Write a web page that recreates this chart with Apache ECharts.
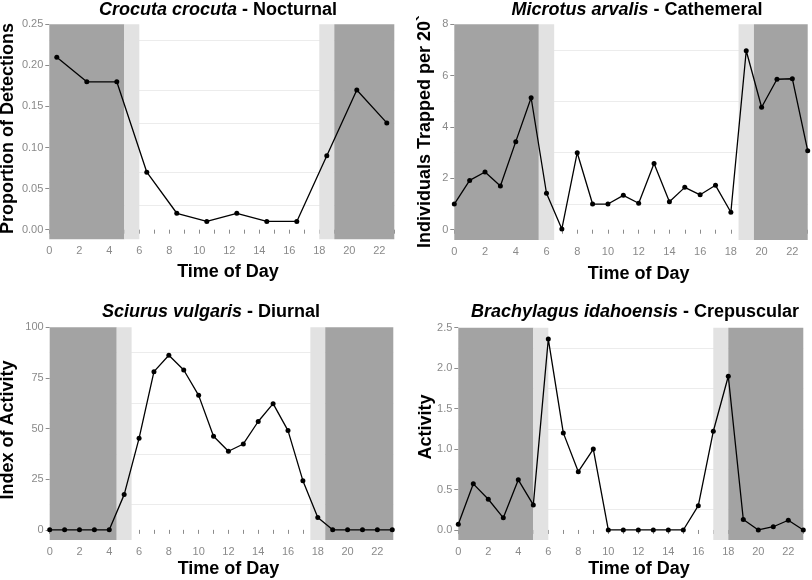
<!DOCTYPE html>
<html>
<head>
<meta charset="utf-8">
<script src="https://cdn.jsdelivr.net/npm/echarts@6/dist/echarts.min.js"></script>
<style>
html,body{margin:0;padding:0;background:#fff;}
#c{width:812px;height:580px;}
</style>
</head>
<body>
<div id="c"></div>
<script>
// ---------------- DATA ----------------
const hourTicks = [0,1,2,3,4,5,6,7,8,9,10,11,12,13,14,15,16,17,18,19,20,21,22,23];
const hourLabels = [0,2,4,6,8,10,12,14,16,18,20,22];
const hoursHourly = [0,1,2,3,4,5,6,7,8,9,10,11,12,13,14,15,16,17,18,19,20,21,22,23];

const crocutaHours = [0.5,2.5,4.5,6.5,8.5,10.5,12.5,14.5,16.5,18.5,20.5,22.5];
const crocutaValues = [0.21,0.18,0.18,0.07,0.02,0.01,0.02,0.01,0.01,0.09,0.17,0.13];
const crocutaYTicks = [0,0.05,0.10,0.15,0.20,0.25];
const crocutaMinorGrid = [0.025,0.075,0.125,0.175,0.225];
const crocutaBands = [[0,5,'night'],[5,6,'twilight'],[18,19,'twilight'],[19,23,'night']];

const microtusValues = [1.0,1.92,2.25,1.70,3.43,5.14,1.42,0.03,3.0,1.0,1.0,1.34,1.03,2.58,1.09,1.65,1.36,1.73,0.68,6.97,4.77,5.86,5.88,3.08];
const microtusYTicks = [0,2,4,6,8];
const microtusMinorGrid = [1,3,5,7];
const microtusBands = [[0,5.5,'night'],[5.5,6.5,'twilight'],[18.5,19.5,'twilight'],[19.5,23,'night']];

const sciurusValues = [0,0,0,0,0,17.4,45.2,78.1,86.2,78.9,66.4,46.2,38.8,42.4,53.5,62.3,49.0,24.3,6.1,0,0,0,0,0];
const sciurusYTicks = [0,25,50,75,100];
const sciurusMinorGrid = [12.5,37.5,62.5,87.5];
const sciurusBands = [[0,4.5,'night'],[4.5,5.5,'twilight'],[17.5,18.5,'twilight'],[18.5,23.07,'night']];

const brachyValues = [0.07,0.57,0.38,0.15,0.62,0.31,2.36,1.20,0.72,1.00,0,0,0,0,0,0,0.30,1.22,1.90,0.13,0,0.04,0.12,0];
const brachyYTicks = [0,0.5,1.0,1.5,2.0,2.5];
const brachyMinorGrid = [0.25,0.75,1.25,1.75,2.25];
const brachyBands = [[0,5,'night'],[5,6,'twilight'],[17,18,'twilight'],[18,23,'night']];

const titles = [
  ['Crocuta crocuta', ' - Nocturnal'],
  ['Microtus arvalis', ' - Cathemeral'],
  ['Sciurus vulgaris', ' - Diurnal'],
  ['Brachylagus idahoensis', ' - Crepuscular']
];
const yTitles = ['Proportion of Detections', 'Individuals Trapped per 20`', 'Index of Activity', 'Activity'];
const xTitle = 'Time of Day';

// ---------------- LAYOUT / STYLE ----------------
const FONT = '"Liberation Sans", Arial, Helvetica, sans-serif';
const bandColor = {night:'#a3a3a3', twilight:'#e2e2e2'};
const panels = [
  {x: crocutaHours, y: crocutaValues, yTicks: crocutaYTicks, minor: crocutaMinorGrid, bands: crocutaBands,
   grid:{left:49.3, top:24.3, width:345, height:215}, xMax:23, yMin:-0.0117, yMax:0.25, fmt:v=>v.toFixed(2),
   title:{x:218,y:10}, yTitle:{x:8,y:128.5,align:'center'}, xTitleY:272, xTitleX:228},
  {x: hoursHourly, y: microtusValues, yTicks: microtusYTicks, minor: microtusMinorGrid, bands: microtusBands,
   grid:{left:454.3, top:24.3, width:353.4, height:215.7}, xMax:23, yMin:-0.40, yMax:8, fmt:v=>String(v),
   title:{x:637,y:10}, yTitle:{x:425.5,y:248,align:'left'}, xTitleY:274, xTitleX:638.7},
  {x: hoursHourly, y: sciurusValues, yTicks: sciurusYTicks, minor: sciurusMinorGrid, bands: sciurusBands,
   grid:{left:49.7, top:327.3, width:343.6, height:212.7}, xMax:23.07, yMin:-5, yMax:100, fmt:v=>String(v),
   title:{x:211,y:312}, yTitle:{x:8.3,y:430,align:'center'}, xTitleY:569, xTitleX:228.5},
  {x: hoursHourly, y: brachyValues, yTicks: brachyYTicks, minor: brachyMinorGrid, bands: brachyBands,
   grid:{left:458.3, top:327.7, width:345, height:212.3}, xMax:23, yMin:-0.124, yMax:2.5, fmt:v=>v.toFixed(1),
   title:{x:635,y:312}, yTitle:{x:426.3,y:427,align:'center'}, xTitleY:569.5, xTitleX:639}
];

const grids = [], xAxes = [], yAxes = [], series = [], graphics = [];
panels.forEach((p, i) => {
  grids.push(Object.assign({containLabel:false}, p.grid));
  xAxes.push({
    type:'value', gridIndex:i, min:0, max:p.xMax,
    axisLine:{show:false},
    axisTick:{show:true, length:4, inside:false, customValues:hourTicks, lineStyle:{color:'#8c8c8c', width:1}},
    axisLabel:{show:true, customValues:hourLabels, margin:6, color:'#8a8a8a', fontSize:11, fontFamily:FONT},
    splitLine:{show:false}
  });
  yAxes.push({
    type:'value', gridIndex:i, min:p.yMin, max:p.yMax,
    axisLine:{show:false},
    axisTick:{show:true, length:4, inside:false, customValues:p.yTicks, lineStyle:{color:'#8c8c8c', width:1}},
    axisLabel:{show:true, customValues:p.yTicks, margin:6, color:'#8a8a8a', fontSize:11, fontFamily:FONT, formatter:p.fmt},
    splitLine:{show:false}
  });
  // minor grid lines
  series.push({
    type:'line', xAxisIndex:i, yAxisIndex:i, data:[], z:1, silent:true,
    markLine:{silent:true, z:1, symbol:'none', animation:false, label:{show:false},
      lineStyle:{color:'#ececec', width:1, type:'solid'},
      emphasis:{disabled:true},
      data:p.minor.map(v => ({yAxis:v}))}
  });
  // day/night bands
  series.push({
    type:'line', xAxisIndex:i, yAxisIndex:i, data:[], z:2, silent:true,
    markArea:{silent:true, z:2, animation:false, emphasis:{disabled:true},
      data:p.bands.map(b => [{xAxis:b[0], itemStyle:{color:bandColor[b[2]], opacity:1}}, {xAxis:b[1]}])}
  });
  // data line
  series.push({
    type:'line', xAxisIndex:i, yAxisIndex:i, z:5,
    data:p.x.map((h, k) => [h, p.y[k]]),
    symbol:'circle', symbolSize:5, showSymbol:true,
    lineStyle:{color:'#000', width:1.3},
    itemStyle:{color:'#000'},
    clip:false
  });
  // title
  graphics.push({
    type:'text', x:p.title.x, y:p.title.y, silent:true,
    style:{
      text:'{i|' + titles[i][0] + '}{b|' + titles[i][1] + '}',
      align:'center', verticalAlign:'middle',
      rich:{
        i:{fontStyle:'italic', fontWeight:'bold', fontSize:18, fontFamily:FONT, fill:'#000'},
        b:{fontWeight:'bold', fontSize:18, fontFamily:FONT, fill:'#000'}
      }
    }
  });
  // x title
  graphics.push({
    type:'text', x:p.xTitleX, y:p.xTitleY, silent:true,
    style:{text:xTitle, align:'center', verticalAlign:'middle', font:'bold 18px ' + FONT, fill:'#000'}
  });
  // y title
  graphics.push({
    type:'text', x:p.yTitle.x, y:p.yTitle.y, rotation:Math.PI/2, silent:true,
    style:{text:yTitles[i], align:p.yTitle.align, verticalAlign:'middle', font:'bold 18px ' + FONT, fill:'#000'}
  });
});

const chart = echarts.init(document.getElementById('c'), null, {renderer:'canvas'});
chart.setOption({
  animation:false,
  backgroundColor:'#fff',
  grid:grids, xAxis:xAxes, yAxis:yAxes, series:series,
  graphic:graphics
});
</script>
</body>
</html>
